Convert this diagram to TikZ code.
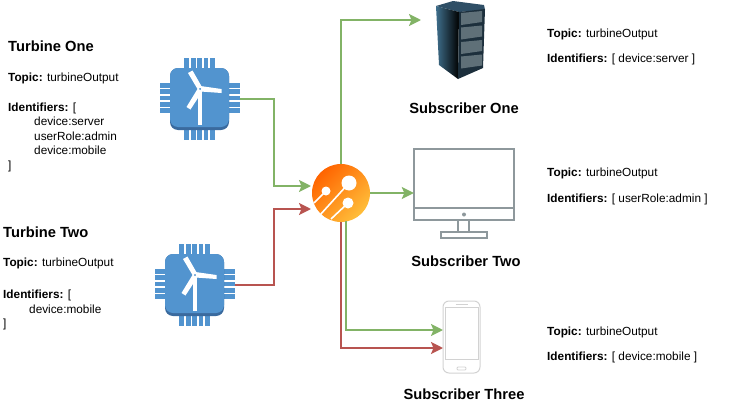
\documentclass[tikz,border=0pt]{standalone}
\usepackage{fontspec}
\setmainfont{Liberation Sans}
\usetikzlibrary{arrows.meta}
\usetikzlibrary{calc}
\definecolor{linegreen}{HTML}{82B366}
\definecolor{linered}{HTML}{B85450}
\definecolor{chipblue}{HTML}{5294CF}
\definecolor{chipdark}{HTML}{3A6A9E}
\definecolor{monitorgray}{HTML}{8E989C}
\definecolor{phonegray}{HTML}{D2D2D2}
\definecolor{hublight}{HTML}{FFBE3A}
\definecolor{hubdark}{HTML}{FF6400}
\definecolor{rackside}{HTML}{3F6F8C}
\definecolor{racktop}{HTML}{2F4F66}
\definecolor{rackfront}{HTML}{1C2F3C}
\definecolor{rackslot}{HTML}{5F7078}

\tikzset{
    pics/turbinechip/.style = {code = {
        % pins
        \foreach \p in {-12.8,-6.4,0,6.4,12.8} {
            \fill[chipblue] (\p-2.4,-41) rectangle (\p+2.4,41);
            \fill[chipblue] (-40,\p-2.4-1) rectangle (40,\p+2.4-1);
        }
        % body
        \fill[chipdark] (-29.5,-31) [rounded corners=8pt] rectangle (29.5,31);
        \fill[chipblue] (-29.5,-31) [rounded corners=8pt] rectangle (29.5,28);
        % wind turbine
        \draw[white, line width=3.5pt] (0.5,-10) -- (0.5,26);
        \fill[white] (-2,-10) -- (-11.5,-26) -- (-7,-28.5) -- (3,-11) -- cycle;
        \fill[white] (1,-13) -- (22,-10) -- (22,-6) -- (1,-7.5) -- cycle;
        \fill[white] (-2,-10) -- (-13,8) -- (-9,10.5) -- (3,-8) -- cycle;
        \fill[chipblue] (0.5,-10) circle (1pt);
    }},
    pics/serverrack/.style = {code = {
        % top, side and front of the cabinet, coordinates from the top left corner
        \fill[racktop] (0,5) -- (17,0) -- (48,4) -- (49,9) -- (23,11) -- cycle;
        \shade[left color=rackside, right color=black] (0,5) -- (23,11) -- (22,78) -- (3,64) -- cycle;
        \fill[rackfront] (23,11) -- (49,8) -- (47,67) -- (22,78) -- cycle;
        \foreach \s in {0,1,2,3} {
            \fill[rackslot] (25,12+\s*14.5) -- (46,10+\s*14.5) -- (46,21+\s*14.5) -- (25,24+\s*14.5) -- cycle;
        }
    }},
    pics/desktopscreen/.style = {code = {
        \draw[monitorgray, line width=2pt] (-50,-44) rectangle (50,27);
        \draw[monitorgray, line width=2pt] (-50,15) -- (50,15);
        \fill[monitorgray] (0,21.5) circle (2pt);
        \draw[monitorgray, line width=2pt] (-6,27) -- (-6,39);
        \draw[monitorgray, line width=2pt] (5,27) -- (5,39);
        \draw[monitorgray, line width=2pt] (-23,39) rectangle (23,45);
    }},
    pics/smartphone/.style = {code = {
        \draw[phonegray, line width=1pt, rounded corners=6pt] (-18.5,-36) rectangle (18.5,36);
        \draw[phonegray, line width=1pt] (-16.5,-30) rectangle (16.5,22);
        \draw[phonegray, line width=0.8pt, rounded corners=1pt] (-4.5,30) rectangle (4.5,33);
        \draw[phonegray, line width=0.8pt] (-6,-32.5) -- (6,-32.5);
    }}
}

\begin{document}
\begin{tikzpicture}[
            x = 1pt,
            y = -1pt,
            > = {Stealth[length=12pt, width=12pt, inset=2.5pt]},
            font = \fontsize{11.8}{14.5}\selectfont
        ]

        \tikzstyle{iconbox}=[
            draw = none,
            inner sep = 0pt
        ]
        \tikzstyle{headtext}=[
            inner sep = 0pt,
            font = \fontsize{14.7}{17}\selectfont\bfseries
        ]
        \tikzstyle{infotext}=[
            inner sep = 0pt,
            anchor = north west,
            align = left
        ]
        \tikzstyle{greenline}=[
            ->,
            draw = linegreen,
            line width = 2pt,
            linegreen
        ]
        \tikzstyle{redline}=[
            ->,
            draw = linered,
            line width = 2pt,
            linered
        ]

        \useasboundingbox (0,0) rectangle (742,407);

        % publishers
        \node[iconbox, minimum width=80pt, minimum height=82pt] (chipA) at (199.5,99) {};
        \pic at (chipA) {turbinechip};
        \node[iconbox, minimum width=80pt, minimum height=82pt] (chipB) at (194.5,285) {};
        \pic at (chipB) {turbinechip};

        % broker
        \node[iconbox, circle, minimum size=58pt] (hub) at (341,193) {};
        \shade[left color=hubdark, right color=hublight, shading angle=45]
            (hub) circle (29pt);
        \fill[white] (349,183) circle (7.5pt);
        \fill[white] (326,191) circle (4.5pt);
        \fill[white] (348,203) circle (5.5pt);
        \draw[white, line width=1.6pt] (349,183) -- (320,215);
        \draw[white, line width=1.6pt] (326,191) -- (314,203);
        \draw[white, line width=1.6pt] (348,203) -- (331,219);

        % subscribers
        \node[iconbox, minimum width=49pt, minimum height=78pt, anchor=west] (server) at (421,40) {};
        \pic at (436,1) {serverrack};
        \node[iconbox, minimum width=100pt, minimum height=90pt] (monitor) at (464,193) {};
        \pic at (monitor) {desktopscreen};
        \node[iconbox, minimum width=37pt, minimum height=72pt] (phone) at (461.5,337) {};
        \pic at (phone) {smartphone};

        % where the lines bend and end
        \coordinate (bendA) at (274,186);
        \coordinate (bendB) at (274,209);
        \coordinate (hubA) at (311,186);
        \coordinate (hubB) at (311,209);
        \coordinate (hubC) at (346,221);
        \coordinate (serverIn) at (421,20);
        \coordinate (phoneG) at (443,330);
        \coordinate (phoneR) at (443,348);

        \draw[greenline] (chipA.east) -| (bendA) -- (hubA);
        \draw[redline] (chipB.east) -| (bendB) -- (hubB);
        \draw[greenline] (hub.north) |- (serverIn);
        \draw[greenline] (hub.east) -- (monitor.west);
        \draw[greenline] (hubC) |- (phoneG);
        \draw[redline] (hub.south) |- (phoneR);

        % turbine texts
        \node[headtext, anchor=west] (titleA) at (8,46) {Turbine One};
        \node[infotext] (infoA) at (8,73) {\textbf{Topic:} turbineOutput\\[15pt]
            \textbf{Identifiers:} [\\
            \hspace*{26pt}device:server\\
            \hspace*{26pt}userRole:admin\\
            \hspace*{26pt}device:mobile\\
            ]};
        \node[headtext, anchor=west] (titleB) at (3,232) {Turbine Two};
        \node[infotext] (infoB) at (3,258) {\textbf{Topic:} turbineOutput\\[17.5pt]
            \textbf{Identifiers:} [\\
            \hspace*{26pt}device:mobile\\
            ]};

        % subscriber texts
        \node[headtext] (nameA) at (464,108) {Subscriber One};
        \node[headtext] (nameB) at (466,261) {Subscriber Two};
        \node[headtext] (nameC) at (464,394) {Subscriber Three};
        \node[infotext] (subA) at (547,29) {\textbf{Topic:} turbineOutput\\[10pt]\textbf{Identifiers:} [ device:server ]};
        \node[infotext] (subB) at (547,168) {\textbf{Topic:} turbineOutput\\[11pt]\textbf{Identifiers:} [ userRole:admin ]};
        \node[infotext] (subC) at (547,327) {\textbf{Topic:} turbineOutput\\[10pt]\textbf{Identifiers:} [ device:mobile ]};

\end{tikzpicture}
\end{document}
